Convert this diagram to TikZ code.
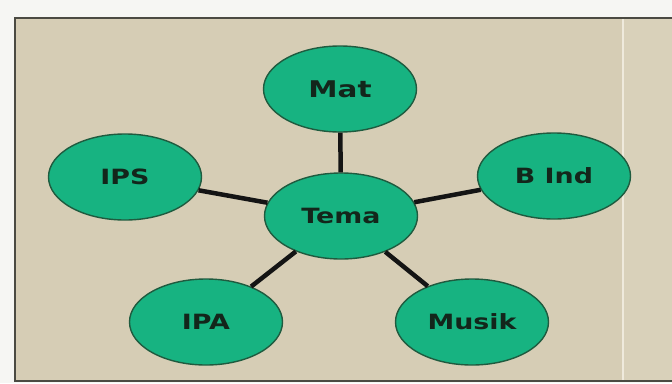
\documentclass[tikz,border=0pt]{standalone}
\usepackage{fontspec}
\setmainfont{DejaVu Sans}
\usetikzlibrary{shapes.geometric}
\definecolor{pagebg}{HTML}{F6F6F3}
\definecolor{panel}{HTML}{D6CDB5}
\definecolor{panelR}{HTML}{D9D1BA}
\definecolor{frameC}{HTML}{4B4A42}
\definecolor{divider}{HTML}{EFEADC}
\definecolor{blobfill}{HTML}{17B381}
\definecolor{blobline}{HTML}{1F5B3F}
\definecolor{labelC}{HTML}{13261B}
\tikzset{
  blob/.style={ellipse, draw=blobline, line width=1.4pt, fill=blobfill,
    minimum width=153pt, minimum height=86pt, inner sep=0pt,
    text=labelC, font=\bfseries\fontsize{21}{26}\selectfont},
  link/.style={line width=4.5pt, draw=black!92}
}
\newcommand{\wide}[1]{\scalebox{1.28}[1]{#1}}
\begin{document}
\begin{tikzpicture}[x=1pt,y=-1pt]
  \useasboundingbox (0,0) rectangle (672,383);
  \fill[pagebg] (0,0) rectangle (672,383);
  \fill[panel] (15,18) rectangle (673,381);
  \fill[panelR] (623,19) rectangle (673,380);
  \draw[divider, line width=1.5pt] (623,19) -- (623,380);
  \draw[frameC, line width=2pt] (674,18) -- (15,18) -- (15,381) -- (674,381);
  \node[blob] (mat) at (340,89) {\fontsize{23}{28}\selectfont\wide{Mat}};
  \node[blob] (tema) at (341,216) {\wide{Tema}};
  \node[blob] (ips) at (125,177) {\wide{IPS}};
  \node[blob] (bind) at (554,176) {\wide{B Ind}};
  \node[blob] (ipa) at (206,322) {\wide{IPA}};
  \node[blob] (musik) at (472,322) {\wide{Musik}};
  \draw[link] (tema) -- (mat);
  \draw[link] (tema) -- (ips);
  \draw[link] (tema) -- (bind);
  \draw[link] (tema) -- (ipa);
  \draw[link] (tema) -- (musik);
\end{tikzpicture}
\end{document}
